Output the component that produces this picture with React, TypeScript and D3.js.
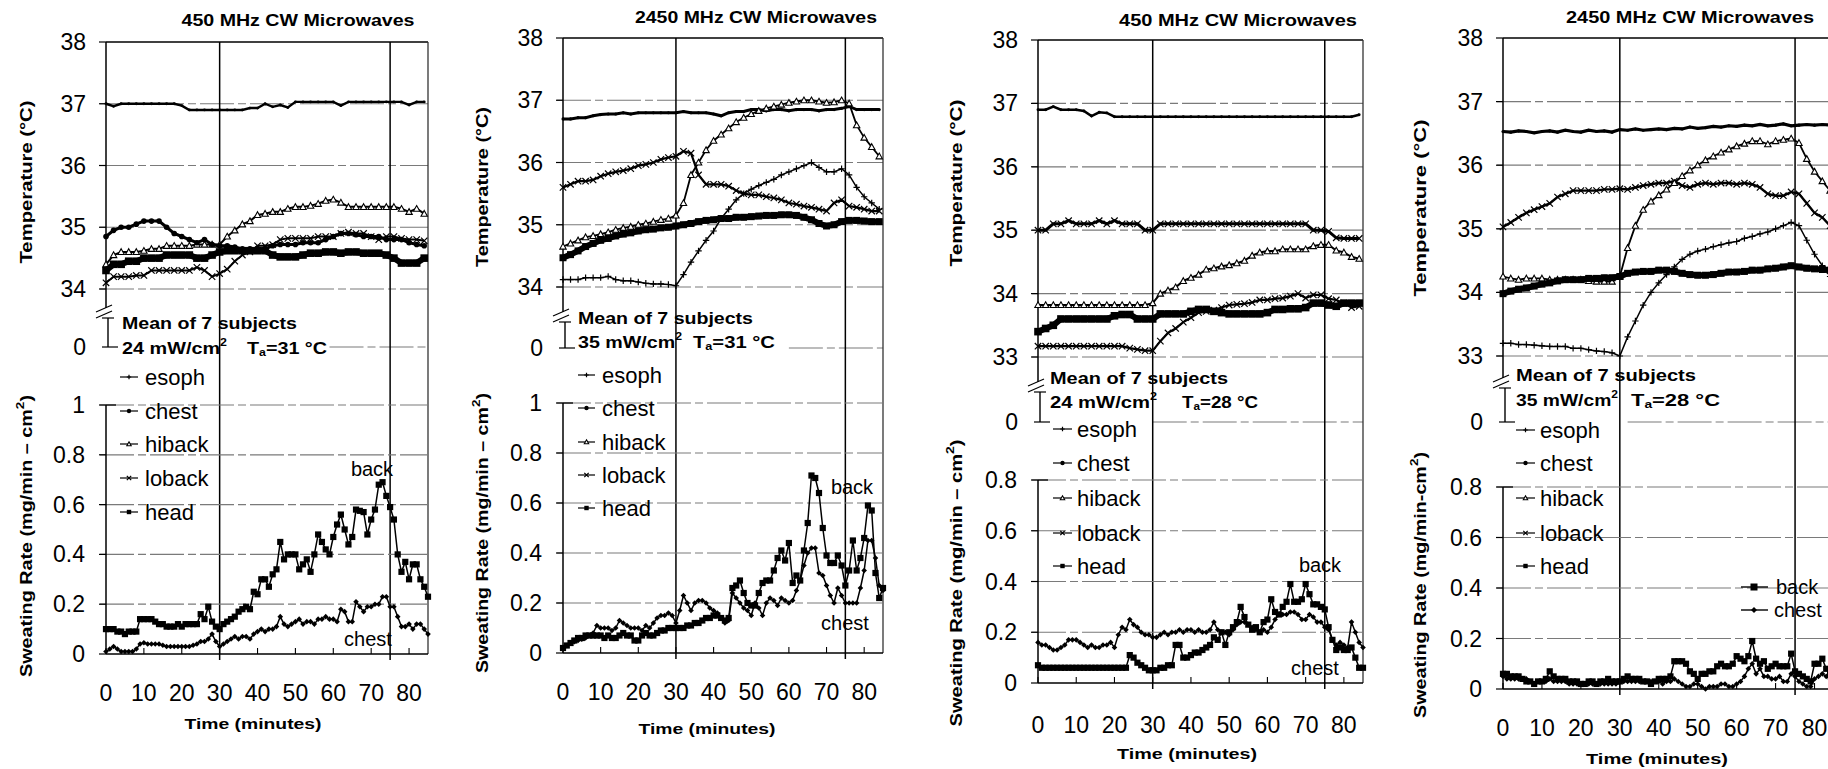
import React from "react";
import * as d3 from "d3";

// ---------- axes / labels ----------
const tempTime = d3.range(0, 85, 2); // 0..84 (43 points)
const sweatTime = d3.range(0, 86, 1); // 0..85 (86 points)
const timeTicks = [0, 10, 20, 30, 40, 50, 60, 70, 80];
const tempTicksA = [34, 35, 36, 37, 38];
const tempTicksB = [33, 34, 35, 36, 37, 38];
const sweatTicksA = [0, 0.2, 0.4, 0.6, 0.8, 1];
const sweatTicksB = [0, 0.2, 0.4, 0.6, 0.8];
const legendNames = ["esoph", "chest", "hiback", "loback", "head"];
const legendMarkers = ["plus", "circle", "triangle", "x", "square"];
const titles = ["450 MHz CW Microwaves", "2450 MHz CW Microwaves", "450 MHz CW Microwaves", "2450 MHz CW Microwaves"];
const powers = ["24", "35", "24", "35"];
const ambients = ["31", "31", "28", "28"];
const tempLabels = ["Temperature  (°C)", "Temperature  (°C)", "Temperature  (°C)", "Temperature  (°C)"];
const sweatLabels = ["Sweating Rate  (mg/min – cm", "Sweating Rate  (mg/min – cm", "Sweating Rate  (mg/min – cm", "Sweating Rate (mg/min-cm"];

// ---------- Panel 1 : 450 MHz, 24 mW/cm2, Ta=31 ----------
const p1Esoph = [
  37.0, 36.96, 37.0, 37.0, 37.0, 37.0, 37.0, 37.0, 37.0, 37.0,
  36.97, 36.9, 36.9, 36.9, 36.9, 36.9, 36.9, 36.9, 36.9, 36.93,
  36.93, 37.0, 36.95, 36.98, 36.94, 37.03, 37.03, 37.03, 37.03, 37.03,
  37.03, 36.97, 37.03, 37.03, 37.03, 37.03, 37.03, 37.03, 37.03, 37.03,
  36.98, 37.03, 37.03];
const p1Chest = [
  34.85, 34.95, 35.0, 35.0, 35.05, 35.1, 35.1, 35.1, 35.0, 34.9,
  34.85, 34.8, 34.75, 34.8, 34.72, 34.7, 34.7, 34.68, 34.65, 34.65,
  34.65, 34.65, 34.7, 34.72, 34.72, 34.72, 34.75, 34.75, 34.75, 34.8,
  34.85, 34.9, 34.9, 34.88, 34.85, 34.85, 34.85, 34.8, 34.8, 34.8,
  34.75, 34.72, 34.7];
const p1Hiback = [
  34.4, 34.55, 34.6, 34.6, 34.6, 34.62, 34.65, 34.65, 34.7, 34.7,
  34.7, 34.7, 34.72, 34.72, 34.72, 34.72, 34.85, 34.95, 35.05, 35.1,
  35.2, 35.22, 35.25, 35.25, 35.3, 35.33, 35.33, 35.35, 35.38, 35.43,
  35.45, 35.4, 35.33, 35.33, 35.33, 35.33, 35.33, 35.33, 35.33, 35.3,
  35.25, 35.3, 35.22];
const p1Loback = [
  34.1, 34.2, 34.2, 34.2, 34.22, 34.22, 34.3, 34.3, 34.3, 34.3,
  34.3, 34.3, 34.35, 34.3, 34.2, 34.25, 34.32, 34.45, 34.55, 34.6,
  34.7, 34.7, 34.72, 34.8, 34.82, 34.82, 34.82, 34.82, 34.85, 34.85,
  34.85, 34.9, 34.92, 34.9, 34.9, 34.85, 34.8, 34.85, 34.85, 34.82,
  34.8, 34.8, 34.78];
const p1Head = [
  34.3, 34.4, 34.4, 34.45, 34.45, 34.5, 34.5, 34.5, 34.55, 34.55,
  34.55, 34.55, 34.5, 34.5, 34.55, 34.6, 34.62, 34.62, 34.62, 34.62,
  34.62, 34.62, 34.55, 34.52, 34.52, 34.52, 34.55, 34.58, 34.58, 34.6,
  34.6, 34.58, 34.6, 34.6, 34.58, 34.58, 34.58, 34.55, 34.5, 34.42,
  34.42, 34.42, 34.5];
const p1SweatBack = [
  0.10, 0.10, 0.10, 0.09, 0.09, 0.08, 0.09, 0.09, 0.09, 0.14,
  0.14, 0.14, 0.14, 0.13, 0.12, 0.12, 0.11, 0.11, 0.11, 0.12,
  0.11, 0.12, 0.12, 0.12, 0.12, 0.16, 0.14, 0.19, 0.13, 0.11,
  0.10, 0.12, 0.13, 0.14, 0.15, 0.17, 0.18, 0.19, 0.18, 0.25,
  0.24, 0.30, 0.30, 0.27, 0.32, 0.34, 0.45, 0.38, 0.40, 0.40,
  0.40, 0.34, 0.36, 0.38, 0.33, 0.40, 0.48, 0.45, 0.42, 0.40,
  0.47, 0.52, 0.56, 0.50, 0.44, 0.47, 0.58, 0.575, 0.57, 0.48,
  0.54, 0.58, 0.68, 0.69, 0.635, 0.59, 0.54, 0.40, 0.33, 0.37,
  0.30, 0.36, 0.36, 0.30, 0.27, 0.23];
const p1SweatChest = [
  0.01, 0.02, 0.03, 0.02, 0.01, 0.01, 0.01, 0.01, 0.02, 0.04,
  0.045, 0.04, 0.04, 0.04, 0.04, 0.035, 0.03, 0.03, 0.03, 0.03,
  0.03, 0.03, 0.03, 0.035, 0.04, 0.05, 0.05, 0.06, 0.08, 0.05,
  0.03, 0.04, 0.05, 0.06, 0.07, 0.06, 0.07, 0.07, 0.06, 0.08,
  0.09, 0.10, 0.09, 0.10, 0.10, 0.11, 0.15, 0.12, 0.11, 0.12,
  0.13, 0.14, 0.12, 0.13, 0.13, 0.12, 0.14, 0.14, 0.15, 0.14,
  0.14, 0.13, 0.18, 0.17, 0.13, 0.13, 0.21, 0.19, 0.17, 0.19,
  0.19, 0.20, 0.20, 0.23, 0.23, 0.19, 0.19, 0.15, 0.11, 0.11,
  0.12, 0.10, 0.12, 0.12, 0.10, 0.08];

// ---------- Panel 2 : 2450 MHz, 35 mW/cm2, Ta=31 ----------
const p2Esoph = [
  36.7, 36.7, 36.72, 36.72, 36.75, 36.77, 36.78, 36.78, 36.8, 36.78,
  36.8, 36.8, 36.8, 36.8, 36.8, 36.8, 36.82, 36.8, 36.8, 36.8,
  36.78, 36.75, 36.8, 36.82, 36.82, 36.85, 36.85, 36.83, 36.85, 36.85,
  36.83, 36.85, 36.85, 36.85, 36.83, 36.85, 36.85, 36.87, 36.9, 36.85,
  36.85, 36.85, 36.85];
const p2Hiback = [
  34.65, 34.7, 34.75, 34.8, 34.82, 34.85, 34.88, 34.92, 34.95, 34.97,
  35.0, 35.02, 35.05, 35.08, 35.1, 35.15, 35.35, 35.8, 36.0, 36.2,
  36.35, 36.45, 36.55, 36.65, 36.72, 36.78, 36.83, 36.87, 36.9, 36.93,
  36.96, 36.98, 37.0, 37.0, 36.98, 36.96, 36.97, 37.0, 36.95, 36.6,
  36.4, 36.25, 36.1];
const p2Loback = [
  35.6, 35.65, 35.7, 35.7, 35.72, 35.78, 35.82, 35.85, 35.87, 35.9,
  35.95, 35.97, 36.0, 36.05, 36.08, 36.1, 36.18, 36.15, 35.8, 35.65,
  35.65, 35.65, 35.62, 35.55, 35.5, 35.48, 35.48, 35.45, 35.43, 35.4,
  35.35, 35.33, 35.3, 35.28, 35.25, 35.22, 35.35, 35.4, 35.3, 35.28,
  35.25, 35.22, 35.22];
const p2Chest = [
  34.12, 34.12, 34.12, 34.15, 34.15, 34.15, 34.17, 34.12, 34.1, 34.1,
  34.08, 34.06, 34.05, 34.05, 34.04, 34.02, 34.2, 34.4, 34.58, 34.75,
  34.9, 35.1, 35.25, 35.4, 35.5, 35.57, 35.63, 35.68, 35.73, 35.8,
  35.85, 35.9, 35.95, 36.0, 35.92, 35.85, 35.85, 35.9, 35.8, 35.6,
  35.45, 35.35, 35.25];
const p2Head = [
  34.47, 34.52, 34.58, 34.65, 34.7, 34.75, 34.78, 34.82, 34.85, 34.87,
  34.9, 34.92, 34.93, 34.95, 34.96, 34.98, 35.0, 35.02, 35.05, 35.07,
  35.08, 35.1, 35.1, 35.12, 35.12, 35.13, 35.14, 35.15, 35.15, 35.16,
  35.16, 35.15, 35.12, 35.08, 35.02, 34.98, 35.0, 35.05, 35.07, 35.07,
  35.06, 35.05, 35.05];
const p2SweatBack = [
  0.02, 0.03, 0.04, 0.05, 0.06, 0.06, 0.07, 0.07, 0.07, 0.07,
  0.07, 0.06, 0.07, 0.06, 0.06, 0.07, 0.08, 0.07, 0.07, 0.05,
  0.05, 0.07, 0.08, 0.07, 0.07, 0.08, 0.09, 0.09, 0.10, 0.10,
  0.10, 0.10, 0.10, 0.11, 0.11, 0.12, 0.12, 0.13, 0.14, 0.14,
  0.15, 0.15, 0.14, 0.13, 0.14, 0.26, 0.27, 0.29, 0.24, 0.20,
  0.19, 0.19, 0.24, 0.28, 0.29, 0.29, 0.33, 0.38, 0.41, 0.37,
  0.44, 0.28, 0.31, 0.29, 0.41, 0.52, 0.71, 0.70, 0.64, 0.50,
  0.39, 0.36, 0.36, 0.39, 0.35, 0.27, 0.33, 0.45, 0.33, 0.38,
  0.46, 0.59, 0.57, 0.32, 0.22, 0.26];
const p2SweatChest = [
  0.02, 0.03, 0.04, 0.045, 0.05, 0.055, 0.06, 0.07, 0.08, 0.11,
  0.10, 0.10, 0.10, 0.09, 0.10, 0.13, 0.12, 0.11, 0.10, 0.10,
  0.10, 0.09, 0.11, 0.10, 0.12, 0.14, 0.15, 0.15, 0.16, 0.15,
  0.12, 0.17, 0.23, 0.20, 0.17, 0.20, 0.21, 0.21, 0.20, 0.18,
  0.17, 0.16, 0.14, 0.12, 0.13, 0.24, 0.22, 0.20, 0.18, 0.17,
  0.15, 0.20, 0.18, 0.15, 0.20, 0.22, 0.21, 0.19, 0.22, 0.21,
  0.20, 0.21, 0.25, 0.29, 0.35, 0.40, 0.42, 0.42, 0.32, 0.31,
  0.27, 0.23, 0.20, 0.26, 0.23, 0.20, 0.20, 0.20, 0.20, 0.26,
  0.33, 0.45, 0.45, 0.38, 0.27, 0.25];

// ---------- Panel 3 : 450 MHz, 24 mW/cm2, Ta=28 ----------
const p3Esoph = [
  36.9, 36.9, 36.95, 36.9, 36.9, 36.9, 36.88, 36.8, 36.86, 36.85,
  36.79, 36.79, 36.79, 36.79, 36.79, 36.79, 36.79, 36.79, 36.79, 36.79,
  36.79, 36.79, 36.79, 36.79, 36.79, 36.79, 36.79, 36.79, 36.79, 36.79,
  36.79, 36.79, 36.79, 36.79, 36.79, 36.79, 36.79, 36.79, 36.79, 36.79,
  36.79, 36.79, 36.82];
const p3Loback = [
  35.0, 35.0, 35.1, 35.1, 35.15, 35.1, 35.1, 35.1, 35.15, 35.1,
  35.15, 35.1, 35.1, 35.1, 35.0, 35.0, 35.1, 35.1, 35.1, 35.1,
  35.1, 35.1, 35.1, 35.1, 35.1, 35.1, 35.1, 35.1, 35.1, 35.1,
  35.1, 35.1, 35.1, 35.1, 35.1, 35.1, 35.0, 35.0, 34.98, 34.88,
  34.87, 34.87, 34.87];
const p3Hiback = [
  33.82, 33.82, 33.82, 33.82, 33.82, 33.82, 33.82, 33.82, 33.82, 33.82,
  33.82, 33.82, 33.82, 33.82, 33.82, 33.85, 34.0, 34.05, 34.1, 34.2,
  34.25, 34.3, 34.38, 34.4, 34.43, 34.45, 34.48, 34.52, 34.6, 34.65,
  34.67, 34.67, 34.7, 34.7, 34.7, 34.7, 34.75, 34.77, 34.77, 34.68,
  34.65, 34.58, 34.55];
const p3Head = [
  33.4, 33.45, 33.5, 33.6, 33.6, 33.6, 33.6, 33.6, 33.6, 33.6,
  33.65, 33.67, 33.67, 33.6, 33.6, 33.6, 33.68, 33.68, 33.68, 33.68,
  33.72, 33.75, 33.75, 33.72, 33.7, 33.68, 33.68, 33.68, 33.68, 33.68,
  33.7, 33.75, 33.75, 33.76, 33.76, 33.78, 33.85, 33.85, 33.82, 33.8,
  33.85, 33.85, 33.85];
const p3Chest = [
  33.17, 33.17, 33.17, 33.17, 33.17, 33.17, 33.17, 33.17, 33.17, 33.17,
  33.17, 33.17, 33.14, 33.12, 33.1, 33.1, 33.25, 33.38, 33.45, 33.55,
  33.62, 33.7, 33.72, 33.74, 33.78, 33.82, 33.83, 33.84, 33.86, 33.9,
  33.9, 33.92, 33.93, 33.96, 34.0, 33.93, 33.98, 33.98, 33.92, 33.9,
  33.85, 33.78, 33.8];
const p3SweatChest = [
  0.16, 0.15, 0.15, 0.14, 0.13, 0.13, 0.14, 0.15, 0.17, 0.17,
  0.17, 0.16, 0.15, 0.14, 0.15, 0.14, 0.14, 0.15, 0.15, 0.16,
  0.14, 0.19, 0.22, 0.21, 0.25, 0.23, 0.22, 0.20, 0.19, 0.19,
  0.18, 0.18, 0.19, 0.20, 0.19, 0.20, 0.20, 0.21, 0.20, 0.21,
  0.21, 0.20, 0.21, 0.20, 0.20, 0.21, 0.24, 0.21, 0.20, 0.20,
  0.19, 0.21, 0.23, 0.24, 0.24, 0.23, 0.22, 0.21, 0.20, 0.21,
  0.20, 0.22, 0.25, 0.27, 0.27, 0.27, 0.28, 0.28, 0.27, 0.25,
  0.25, 0.27, 0.26, 0.24, 0.24, 0.22, 0.21, 0.17, 0.15, 0.16,
  0.15, 0.14, 0.24, 0.20, 0.16, 0.14];
const p3SweatBack = [
  0.07, 0.06, 0.06, 0.06, 0.06, 0.06, 0.06, 0.06, 0.06, 0.06,
  0.06, 0.06, 0.06, 0.06, 0.06, 0.06, 0.06, 0.06, 0.06, 0.06,
  0.06, 0.06, 0.06, 0.06, 0.11, 0.10, 0.08, 0.07, 0.06, 0.05,
  0.05, 0.05, 0.06, 0.06, 0.07, 0.07, 0.15, 0.15, 0.10, 0.10,
  0.11, 0.12, 0.12, 0.13, 0.14, 0.15, 0.18, 0.17, 0.20, 0.15,
  0.20, 0.22, 0.24, 0.30, 0.26, 0.23, 0.21, 0.22, 0.20, 0.24,
  0.25, 0.33, 0.28, 0.27, 0.30, 0.32, 0.39, 0.32, 0.32, 0.33,
  0.39, 0.35, 0.31, 0.31, 0.30, 0.29, 0.22, 0.17, 0.13, 0.14,
  0.13, 0.13, 0.14, 0.10, 0.06, 0.06];

// ---------- Panel 4 : 2450 MHz, 35 mW/cm2, Ta=28 ----------
const p4Esoph = [
  36.53, 36.52, 36.54, 36.53, 36.51, 36.53, 36.54, 36.52, 36.55, 36.53,
  36.52, 36.55, 36.53, 36.54, 36.52, 36.56, 36.55, 36.57, 36.55, 36.56,
  36.57, 36.56, 36.58, 36.57, 36.6, 36.58, 36.59, 36.61, 36.6, 36.62,
  36.61, 36.63, 36.62, 36.64, 36.62, 36.63, 36.65, 36.62, 36.63, 36.64,
  36.63, 36.64, 36.63];
const p4Loback = [
  35.03, 35.1, 35.18, 35.25, 35.3, 35.35, 35.4, 35.5, 35.55, 35.6,
  35.6, 35.6, 35.6, 35.62, 35.62, 35.63, 35.62, 35.65, 35.68, 35.7,
  35.72, 35.72, 35.75, 35.68, 35.65, 35.7, 35.72, 35.7, 35.72, 35.72,
  35.7, 35.72, 35.7, 35.65, 35.55, 35.52, 35.52, 35.58, 35.55, 35.4,
  35.25, 35.18, 35.05];
const p4Hiback = [
  34.25, 34.22, 34.2, 34.22, 34.22, 34.22, 34.2, 34.2, 34.2, 34.2,
  34.2, 34.18, 34.17, 34.17, 34.17, 34.25, 34.7, 35.05, 35.3, 35.43,
  35.53, 35.62, 35.72, 35.83, 35.92, 36.0, 36.08, 36.14, 36.2, 36.25,
  36.3, 36.34, 36.38, 36.38, 36.33, 36.38, 36.4, 36.42, 36.35, 36.1,
  35.9, 35.75, 35.6];
const p4Chest = [
  33.2, 33.2, 33.18, 33.18, 33.17, 33.16, 33.15, 33.15, 33.15, 33.12,
  33.12, 33.1, 33.08, 33.07, 33.05, 33.0, 33.3, 33.55, 33.8, 34.0,
  34.15, 34.28, 34.4, 34.52, 34.6, 34.65, 34.68, 34.72, 34.75, 34.78,
  34.8, 34.85, 34.88, 34.92, 34.95, 35.0, 35.05, 35.1, 35.05, 34.82,
  34.6, 34.42, 34.25];
const p4Head = [
  33.98, 34.02, 34.05, 34.07, 34.1, 34.13, 34.15, 34.18, 34.2, 34.2,
  34.2, 34.22, 34.22, 34.23, 34.23, 34.25, 34.3, 34.32, 34.33, 34.33,
  34.35, 34.35, 34.33, 34.3, 34.28, 34.27, 34.27, 34.28, 34.3, 34.32,
  34.32, 34.33, 34.35, 34.35, 34.37, 34.38, 34.4, 34.42, 34.4, 34.38,
  34.37, 34.36, 34.35];
const p4SweatBack = [
  0.06, 0.06, 0.05, 0.05, 0.05, 0.04, 0.03, 0.03, 0.02, 0.03,
  0.03, 0.04, 0.07, 0.05, 0.04, 0.04, 0.04, 0.03, 0.03, 0.03,
  0.02, 0.02, 0.03, 0.03, 0.02, 0.03, 0.03, 0.04, 0.03, 0.03,
  0.03, 0.04, 0.05, 0.04, 0.04, 0.04, 0.03, 0.03, 0.02, 0.03,
  0.04, 0.04, 0.04, 0.05, 0.11, 0.11, 0.11, 0.10, 0.07, 0.06,
  0.04, 0.06, 0.06, 0.07, 0.07, 0.09, 0.10, 0.09, 0.09, 0.10,
  0.13, 0.12, 0.11, 0.13, 0.19, 0.12, 0.10, 0.11, 0.08, 0.09,
  0.10, 0.09, 0.09, 0.09, 0.14, 0.07, 0.06, 0.05, 0.04, 0.03,
  0.10, 0.10, 0.12, 0.08, 0.06, 0.05];
const p4SweatChest = [
  0.05, 0.04, 0.04, 0.04, 0.04, 0.04, 0.04, 0.03, 0.02, 0.03,
  0.03, 0.03, 0.04, 0.03, 0.03, 0.03, 0.03, 0.02, 0.02, 0.02,
  0.02, 0.02, 0.02, 0.02, 0.02, 0.02, 0.02, 0.02, 0.02, 0.02,
  0.03, 0.03, 0.03, 0.03, 0.03, 0.03, 0.03, 0.03, 0.03, 0.03,
  0.03, 0.02, 0.03, 0.03, 0.04, 0.03, 0.02, 0.01, 0.01, 0.02,
  0.02, 0.01, 0.00, 0.01, 0.01, 0.01, 0.02, 0.02, 0.01, 0.01,
  0.02, 0.03, 0.05, 0.08, 0.10, 0.06, 0.08, 0.05, 0.05, 0.04,
  0.04, 0.05, 0.03, 0.03, 0.06, 0.05, 0.03, 0.02, 0.01, 0.01,
  0.04, 0.05, 0.06, 0.05, 0.04, 0.04];

type TS = { values: number[]; marker: string; width: number; size: number };
const panelData = [
  {
    tempTicks: tempTicksA, sweatTicks: sweatTicksA,
    temp: [
      { values: p1Esoph, marker: "dot", width: 2.4, size: 2.4 },
      { values: p1Hiback, marker: "triangle", width: 2, size: 3.2 },
      { values: p1Chest, marker: "circle", width: 3, size: 2.8 },
      { values: p1Loback, marker: "x", width: 2, size: 3.2 },
      { values: p1Head, marker: "square", width: 6, size: 3.8 },
    ] as TS[],
    back: p1SweatBack, chest: p1SweatChest,
  },
  {
    tempTicks: tempTicksA, sweatTicks: sweatTicksA,
    temp: [
      { values: p2Esoph, marker: "dot", width: 3, size: 2.6 },
      { values: p2Hiback, marker: "triangle", width: 1.8, size: 3.2 },
      { values: p2Loback, marker: "x", width: 2.2, size: 3.2 },
      { values: p2Chest, marker: "plus", width: 1.5, size: 3.2 },
      { values: p2Head, marker: "square", width: 6, size: 3.5 },
    ] as TS[],
    back: p2SweatBack, chest: p2SweatChest,
  },
  {
    tempTicks: tempTicksB, sweatTicks: sweatTicksB,
    temp: [
      { values: p3Esoph, marker: "dot", width: 2.6, size: 2.4 },
      { values: p3Loback, marker: "x", width: 3, size: 3.2 },
      { values: p3Hiback, marker: "triangle", width: 2, size: 3.2 },
      { values: p3Head, marker: "square", width: 6, size: 3.8 },
      { values: p3Chest, marker: "x", width: 2.2, size: 3.2 },
    ] as TS[],
    back: p3SweatBack, chest: p3SweatChest,
  },
  {
    tempTicks: tempTicksB, sweatTicks: sweatTicksB,
    temp: [
      { values: p4Esoph, marker: "dot", width: 3.2, size: 2.6 },
      { values: p4Loback, marker: "x", width: 2.4, size: 3.2 },
      { values: p4Hiback, marker: "triangle", width: 1.8, size: 3.2 },
      { values: p4Chest, marker: "plus", width: 1.5, size: 3.2 },
      { values: p4Head, marker: "square", width: 6, size: 3.5 },
    ] as TS[],
    back: p4SweatBack, chest: p4SweatChest,
  },
];

// ---------- layout (pixel positions) ----------
const layouts = [
  { x0: 106, x85: 428, tTop: 42, tBot: 289, zeroY: 347, breakY: 310, sTop: 405, sBot: 654, tickY: 693, timeY: 723, timeX: 253, timeW: 137,
    titleX: 298, titleY: 20, titleW: 233, labX: 26, tLabY: 182, tLabW: 163, sLabY: 536, sLabW: 282,
    meanX: 122, meanY: 323, meanW: 175, l2Y: 348, pwW: 105, taX: 247, taW: 80,
    legY: [377, 411, 444, 478, 512], legX: [120, 138, 145], zeroFrom: 59,
    backLab: [372, 469], chestLab: [368, 639], inLegend: false },
  { x0: 563, x85: 883, tTop: 38, tBot: 287, zeroY: 348, breakY: 314, sTop: 403, sBot: 653, tickY: 692, timeY: 728, timeX: 707, timeW: 137,
    titleX: 756, titleY: 17, titleW: 242, labX: 482, tLabY: 187, tLabW: 160, sLabY: 533, sLabW: 280,
    meanX: 578, meanY: 318, meanW: 175, l2Y: 342, pwW: 104, taX: 693, taW: 82,
    legY: [375, 408, 442, 475, 508], legX: [578, 595, 602], zeroFrom: 60,
    backLab: [852, 487], chestLab: [845, 623], inLegend: false },
  { x0: 1038, x85: 1363, tTop: 40, tBot: 357, zeroY: 422, breakY: 384, sTop: 480, sBot: 683, tickY: 725, timeY: 753, timeX: 1187, timeW: 140,
    titleX: 1238, titleY: 20, titleW: 238, labX: 956, tLabY: 183, tLabW: 167, sLabY: 583, sLabW: 287,
    meanX: 1050, meanY: 378, meanW: 178, l2Y: 402, pwW: 107, taX: 1182, taW: 76,
    legY: [429, 463, 498, 533, 566], legX: [1053, 1072, 1077], zeroFrom: 30,
    backLab: [1320, 565], chestLab: [1315, 668], inLegend: false },
  { x0: 1503, x85: 1834, tTop: 38, tBot: 356, zeroY: 422, breakY: 380, sTop: 487, sBot: 689, tickY: 728, timeY: 758, timeX: 1657, timeW: 142,
    titleX: 1690, titleY: 17, titleW: 248, labX: 1420, tLabY: 208, tLabW: 177, sLabY: 585, sLabW: 266,
    meanX: 1516, meanY: 375, meanW: 180, l2Y: 400, pwW: 102, taX: 1631, taW: 89,
    legY: [430, 463, 498, 533, 566], legX: [1516, 1535, 1540], zeroFrom: 32,
    backLab: [1776, 587], chestLab: [1774, 610], inLegend: true },
];

const FONT = "'Liberation Sans', Arial, Helvetica, sans-serif";
const GRID = { stroke: "#7a7a7a", strokeWidth: 1.2, strokeDasharray: "34 4 8 4" };

function Marker({ type, x, y, s }: { type: string; x: number; y: number; s: number }) {
  switch (type) {
    case "dot":
      return <circle cx={x} cy={y} r={s * 0.6} fill="#000" />;
    case "circle":
      return <circle cx={x} cy={y} r={s} fill="#000" />;
    case "triangle":
      return <path d={`M${x},${y - s}L${x + s},${y + s * 0.8}L${x - s},${y + s * 0.8}Z`} fill="#fff" stroke="#000" strokeWidth={1.1} />;
    case "x":
      return <path d={`M${x - s},${y - s}L${x + s},${y + s}M${x - s},${y + s}L${x + s},${y - s}`} stroke="#000" strokeWidth={1.2} />;
    case "plus":
      return <path d={`M${x - s},${y}L${x + s},${y}M${x},${y - s}L${x},${y + s}`} stroke="#000" strokeWidth={1.2} />;
    case "square":
      return <rect x={x - s} y={y - s} width={2 * s} height={2 * s} fill="#000" />;
    case "diamond":
      return <path d={`M${x},${y - s}L${x + s},${y}L${x},${y + s}L${x - s},${y}Z`} fill="#000" />;
    default:
      return null;
  }
}

function fmtSweat(v: number) {
  const r = Math.round(v * 10) / 10;
  return r === 0 ? "0" : r === 1 ? "1" : r.toFixed(1);
}

function Panel({ idx }: { idx: number }) {
  const d = panelData[idx];
  const L = layouts[idx];
  const lo = d.tempTicks[0];
  const x = d3.scaleLinear().domain([0, 85]).range([L.x0, L.x85]);
  const yT = d3.scaleLinear().domain([lo, 38]).range([L.tBot, L.tTop]);
  const sMax = d.sweatTicks[d.sweatTicks.length - 1];
  const yS = d3.scaleLinear().domain([0, sMax]).range([L.sBot, L.sTop]);

  const tLine = d3.line<number>().x((_, i) => x(tempTime[i])).y((v) => yT(v));
  const sLine = d3.line<number>().x((_, i) => x(sweatTime[i])).y((v) => yS(v));
  const x0 = L.x0;

  return (
    <g fontFamily={FONT}>
      {/* title */}
      <text x={L.titleX} y={L.titleY} textAnchor="middle" dominantBaseline="central" fontSize={16} fontWeight="bold"
        textLength={L.titleW} lengthAdjust="spacingAndGlyphs">{titles[idx]}</text>

      {/* temperature grid */}
      {d.tempTicks.filter((t) => t !== 38).map((t) => (
        <line key={"tg" + t} x1={x0 - 6} x2={x(85)} y1={yT(t)} y2={yT(t)} {...GRID} />
      ))}
      {d.tempTicks.map((t) => (
        <g key={"tt" + t}>
          <line x1={x0 - 7} x2={x0} y1={yT(t)} y2={yT(t)} stroke="#000" strokeWidth={1.2} />
          <text x={x0 - 20} y={yT(t)} textAnchor="end" dominantBaseline="central" fontSize={23}>{t}</text>
        </g>
      ))}
      {/* temperature zero */}
      <text x={x0 - 20} y={L.zeroY} textAnchor="end" dominantBaseline="central" fontSize={23}>0</text>
      <line x1={x(L.zeroFrom)} x2={x(85)} y1={L.zeroY} y2={L.zeroY} {...GRID} />
      {/* frame temp */}
      <line x1={x0} x2={x(85)} y1={L.tTop} y2={L.tTop} stroke="#000" strokeWidth={1.6} />
      <line x1={x0} x2={x0} y1={L.tTop} y2={L.breakY - 2} stroke="#000" strokeWidth={1.5} />
      {/* axis break */}
      <line x1={x0 - 10} y1={L.breakY + 2} x2={x0 + 6} y2={L.breakY - 5} stroke="#000" strokeWidth={1.2} />
      <line x1={x0 - 10} y1={L.breakY + 8} x2={x0 + 6} y2={L.breakY + 1} stroke="#000" strokeWidth={1.2} />
      {/* bracket to 0 */}
      <line x1={x0 + 2} x2={x0 + 2} y1={L.breakY + 8} y2={L.zeroY} stroke="#000" strokeWidth={1.4} />
      <line x1={x0 - 4} x2={x0 + 8} y1={L.breakY + 8} y2={L.breakY + 8} stroke="#000" strokeWidth={1.2} />
      <line x1={x0 - 4} x2={x0 + 12} y1={L.zeroY} y2={L.zeroY} stroke="#000" strokeWidth={1.2} />

      {/* vertical markers at 30, 75 and right border */}
      <line x1={x(30)} x2={x(30)} y1={L.tTop} y2={L.sBot + 6} stroke="#000" strokeWidth={1.5} />
      <line x1={x(75)} x2={x(75)} y1={L.tTop} y2={L.sBot + 6} stroke="#000" strokeWidth={1.5} />
      <line x1={x(85)} x2={x(85)} y1={L.tTop} y2={L.sBot} stroke="#333" strokeWidth={1.3} />

      {/* temperature series */}
      {d.temp.map((s, si) => (
        <g key={"ts" + si}>
          <path d={tLine(s.values.slice(0, tempTime.length)) || ""} fill="none" stroke="#000" strokeWidth={s.width} />
          {s.values.slice(0, tempTime.length).map((v, i) => (
            <Marker key={i} type={s.marker} x={x(tempTime[i])} y={yT(v)} s={s.size} />
          ))}
        </g>
      ))}

      {/* sweat grid */}
      {d.sweatTicks.filter((t) => t > 0).map((t) => (
        <line key={"sg" + t} x1={x0 - 6} x2={x(85)} y1={yS(t)} y2={yS(t)} {...GRID} />
      ))}
      {d.sweatTicks.map((t) => (
        <g key={"st" + t}>
          <line x1={x0 - 7} x2={x0} y1={yS(t)} y2={yS(t)} stroke="#000" strokeWidth={1.2} />
          <text x={x0 - 21} y={yS(t)} textAnchor="end" dominantBaseline="central" fontSize={23}>{fmtSweat(t)}</text>
        </g>
      ))}
      <line x1={x0} x2={x0} y1={yS(sMax)} y2={L.sBot} stroke="#000" strokeWidth={1.5} />
      <line x1={x0} x2={x0 + 10} y1={yS(sMax)} y2={yS(sMax)} stroke="#000" strokeWidth={1.3} />
      <line x1={x0} x2={x(85)} y1={L.sBot} y2={L.sBot} stroke="#000" strokeWidth={1.6} />
      {timeTicks.map((t) => (
        <g key={"xt" + t}>
          <line x1={x(t)} x2={x(t)} y1={L.sBot} y2={L.sBot - 6} stroke="#000" strokeWidth={1.1} />
          <text x={x(t)} y={L.tickY} textAnchor="middle" dominantBaseline="central" fontSize={23}>{t}</text>
        </g>
      ))}
      <text x={L.timeX} y={L.timeY} textAnchor="middle" dominantBaseline="central" fontSize={15.5} fontWeight="bold"
        textLength={L.timeW} lengthAdjust="spacingAndGlyphs">Time (minutes)</text>

      {/* sweat series */}
      <path d={sLine(d.chest) || ""} fill="none" stroke="#000" strokeWidth={1.5} />
      {d.chest.map((v, i) => <Marker key={"c" + i} type="diamond" x={x(sweatTime[i])} y={yS(v)} s={2.8} />)}
      <path d={sLine(d.back) || ""} fill="none" stroke="#000" strokeWidth={1.5} />
      {d.back.map((v, i) => <Marker key={"b" + i} type="square" x={x(sweatTime[i])} y={yS(v)} s={3.1} />)}

      {/* axis titles */}
      <text transform={`translate(${L.labX},${L.tLabY}) rotate(-90)`} textAnchor="middle" dominantBaseline="central"
        fontSize={16} fontWeight="bold" textLength={L.tLabW} lengthAdjust="spacingAndGlyphs">{tempLabels[idx]}</text>
      <text transform={`translate(${L.labX},${L.sLabY}) rotate(-90)`} textAnchor="middle" dominantBaseline="central"
        fontSize={16} fontWeight="bold" textLength={L.sLabW} lengthAdjust="spacingAndGlyphs">
        {sweatLabels[idx]}<tspan dy={-6} fontSize={11}>2</tspan><tspan dy={6}>)</tspan>
      </text>

      {/* study note */}
      <text x={L.meanX} y={L.meanY} dominantBaseline="central" fontSize={16} fontWeight="bold"
        textLength={L.meanW} lengthAdjust="spacingAndGlyphs">Mean of 7 subjects</text>
      <text x={L.meanX} y={L.l2Y} dominantBaseline="central" fontSize={16} fontWeight="bold"
        textLength={L.pwW} lengthAdjust="spacingAndGlyphs">{powers[idx]} mW/cm<tspan dy={-6} fontSize={10}>2</tspan></text>
      <text x={L.taX} y={L.l2Y} dominantBaseline="central" fontSize={16} fontWeight="bold"
        textLength={L.taW} lengthAdjust="spacingAndGlyphs">T<tspan dy={4} fontSize={10}>a</tspan><tspan dy={-4}>={ambients[idx]} °C</tspan></text>

      {/* legend */}
      {legendNames.map((n, i) => {
        const ly = L.legY[i];
        const mx = (L.legX[0] + L.legX[1]) / 2;
        return (
          <g key={"lg" + n}>
            <line x1={L.legX[0]} x2={L.legX[1]} y1={ly} y2={ly} stroke="#000" strokeWidth={1.2} />
            <Marker type={legendMarkers[i]} x={mx} y={ly} s={2.2} />
            <text x={L.legX[2]} y={ly} dominantBaseline="central" fontSize={22}>{n}</text>
          </g>
        );
      })}

      {/* back / chest labels */}
      {L.inLegend ? (
        <g>
          <line x1={1741} x2={1768} y1={L.backLab[1]} y2={L.backLab[1]} stroke="#000" strokeWidth={1.4} />
          <Marker type="square" x={1754} y={L.backLab[1]} s={3.5} />
          <text x={L.backLab[0]} y={L.backLab[1]} dominantBaseline="central" fontSize={20}>back</text>
          <line x1={1741} x2={1768} y1={L.chestLab[1]} y2={L.chestLab[1]} stroke="#000" strokeWidth={1.4} />
          <Marker type="diamond" x={1754} y={L.chestLab[1]} s={3} />
          <text x={L.chestLab[0]} y={L.chestLab[1]} dominantBaseline="central" fontSize={20}>chest</text>
        </g>
      ) : (
        <g>
          <text x={L.backLab[0]} y={L.backLab[1]} textAnchor="middle" dominantBaseline="central" fontSize={20}>back</text>
          <text x={L.chestLab[0]} y={L.chestLab[1]} textAnchor="middle" dominantBaseline="central" fontSize={20}>chest</text>
        </g>
      )}
    </g>
  );
}

export default function App() {
  return (
    <div style={{ position: "absolute", left: 0, top: 0, width: 1828, height: 769, background: "#fff" }}>
      <svg width={1828} height={769} viewBox="0 0 1828 769" style={{ display: "block" }}>
        <rect x={0} y={0} width={1828} height={769} fill="#fff" />
        {[0, 1, 2, 3].map((i) => <Panel key={i} idx={i} />)}
      </svg>
    </div>
  );
}
